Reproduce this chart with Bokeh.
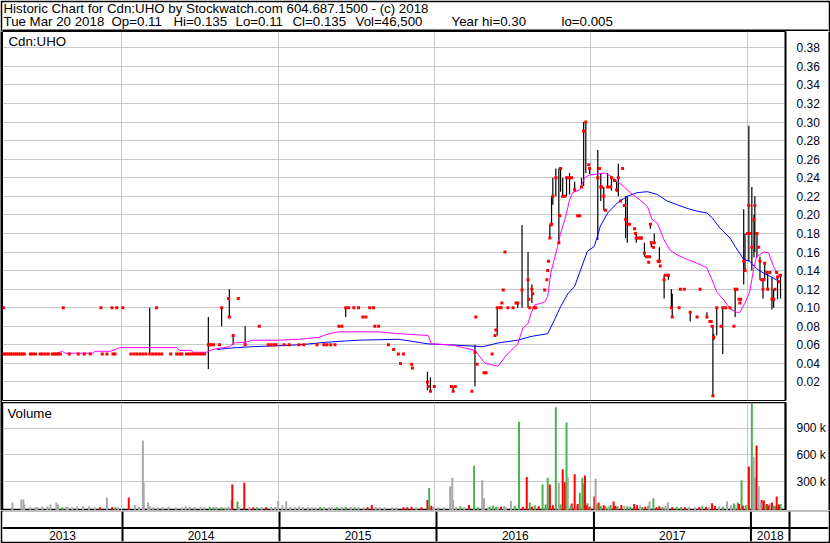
import pandas as pd
from bokeh.plotting import figure
from bokeh.layouts import column, row
from bokeh.models import Range1d, FixedTicker, Span, ColumnDataSource, NumeralTickFormatter
from bokeh.embed import file_html
from bokeh.resources import INLINE
from bokeh.core.properties import value

FONT = "Liberation Sans"

# ---------------------------------------------------------------- data
# time axis: calendar days counted from the first day of the chart
START = pd.Timestamp("2013-03-28")
years = [2013, 2014, 2015, 2016, 2017, 2018]
year_starts = [(pd.Timestamp(f"{y}-01-01") - START).days for y in years[1:]]

# days with a price range (high > low): day, high, low, close
bar_day = [344, 481, 512, 530, 539, 567, 802, 993, 1000, 1053, 1104, 1156, 1204, 1214,
           1228, 1237, 1279, 1283, 1286, 1293, 1300, 1304, 1309, 1318, 1325, 1337, 1353,
           1358, 1363, 1372, 1391, 1398, 1405, 1414, 1423, 1435, 1439, 1456, 1460, 1481,
           1500, 1514, 1516, 1523, 1535, 1546, 1556, 1563, 1565, 1607, 1646, 1660, 1662,
           1669, 1683, 1712, 1732, 1735, 1744, 1751, 1756, 1758, 1763, 1770, 1777, 1781,
           1788, 1798, 1802, 1811, 1818]
bar_hi = [0.10, 0.09, 0.10, 0.12, 0.07, 0.08, 0.10, 0.031, 0.025, 0.015, 0.060, 0.10, 0.105, 0.189,
          0.16, 0.125, 0.189, 0.22, 0.24, 0.25, 0.25, 0.25, 0.24, 0.24, 0.245, 0.236, 0.24,
          0.30, 0.30, 0.25, 0.27, 0.245, 0.23, 0.245, 0.242, 0.236, 0.255, 0.22, 0.22, 0.18,
          0.17, 0.19, 0.17, 0.18, 0.165, 0.135, 0.135, 0.12, 0.115, 0.095, 0.095, 0.08, 0.072,
          0.10, 0.10, 0.12, 0.206, 0.18, 0.296, 0.23, 0.20, 0.22, 0.18, 0.155, 0.13, 0.148,
          0.138, 0.133, 0.12, 0.133, 0.135]
bar_lo = [0.05, 0.034, 0.08, 0.09, 0.06, 0.06, 0.09, 0.011, 0.010, 0.010, 0.015, 0.07, 0.10, 0.10,
          0.10, 0.105, 0.175, 0.19, 0.211, 0.22, 0.17, 0.225, 0.22, 0.22, 0.222, 0.225, 0.23,
          0.231, 0.245, 0.244, 0.173, 0.215, 0.205, 0.23, 0.226, 0.225, 0.22, 0.175, 0.17, 0.17,
          0.155, 0.185, 0.165, 0.17, 0.15, 0.11, 0.13, 0.10, 0.09, 0.085, 0.09, 0.005, 0.065,
          0.07, 0.05, 0.09, 0.125, 0.14, 0.15, 0.14, 0.154, 0.16, 0.154, 0.13, 0.11, 0.13,
          0.12, 0.098, 0.10, 0.109, 0.11]
bar_cl = [0.05, 0.06, 0.10, 0.09, 0.07, 0.06, 0.10, 0.02, 0.010, 0.010, 0.052, 0.10, 0.105, 0.119,
          0.13, 0.12, 0.175, 0.19, 0.22, 0.24, 0.17, 0.25, 0.22, 0.24, 0.24, 0.227, 0.23,
          0.29, 0.30, 0.25, 0.24, 0.23, 0.22, 0.23, 0.24, 0.227, 0.24, 0.195, 0.19, 0.175,
          0.159, 0.19, 0.17, 0.17, 0.15, 0.13, 0.135, 0.10, 0.09, 0.095, 0.09, 0.005, 0.068,
          0.10, 0.10, 0.12, 0.15, 0.14, 0.21, 0.165, 0.195, 0.21, 0.18, 0.15, 0.12, 0.148,
          0.12, 0.109, 0.109, 0.133, 0.135]

# days that traded at a single price: day, close
flat_day = [0, 5, 9, 14, 19, 23, 28, 33, 37, 42, 47, 51, 65, 70, 77, 88, 93, 100, 107, 116,
            121, 126, 130, 135, 156, 177, 191, 205, 233, 244, 258, 263, 300, 307, 314, 321,
            328, 335, 351, 358, 365, 372, 393, 407, 414, 419, 430, 437, 444, 451, 458, 465, 472,
            2, 142, 230, 256, 267, 281, 360,
            484, 488, 493, 507, 528, 551, 600, 621, 628, 635, 639, 658, 670, 693, 704, 735,
            751, 758, 767, 777, 786, 793, 809, 821, 832, 842, 849, 858, 867, 870, 879, 902,
            914, 925, 930, 937, 956, 958, 995, 1009, 1049, 1058, 1097, 1106, 1109, 1125, 1130,
            1144, 1151, 1153, 1163, 1165, 1167, 1170, 1174, 1181, 1193, 1200, 1230, 1232,
            1239, 1242, 1246, 1267, 1272, 1274, 1276, 1281, 1302, 1314, 1330, 1344, 1349,
            1370, 1395, 1400, 1409, 1421, 1430, 1444, 1449, 1453, 1465, 1477, 1479, 1486,
            1491, 1493, 1505, 1510, 1512, 1521, 1532, 1537, 1549, 1581, 1584, 1593, 1623,
            1630, 1653, 1656, 1658, 1679, 1690, 1700, 1709, 1716, 1721, 1723, 1725, 1741,
            1746, 1767, 1774, 1779, 1786, 1793, 1805, 1809, 1814]
flat_cl = [
    0.05, 0.05, 0.05, 0.05, 0.05, 0.05, 0.05, 0.05, 0.05, 0.05, 0.05, 0.05, 0.05, 0.05,
    0.05, 0.05, 0.05, 0.05, 0.05, 0.05, 0.05, 0.05, 0.05, 0.05, 0.05, 0.05, 0.05, 0.05,
    0.05, 0.05, 0.05, 0.05, 0.05, 0.05, 0.05, 0.05, 0.05, 0.05, 0.05, 0.05, 0.05, 0.05,
    0.05, 0.05, 0.05, 0.05, 0.05, 0.05, 0.05, 0.05, 0.05, 0.05, 0.05,
    0.10, 0.10, 0.10, 0.10, 0.10, 0.10, 0.10,
    0.06, 0.06, 0.06, 0.06, 0.11, 0.11, 0.08, 0.06, 0.06, 0.06, 0.06, 0.06, 0.06, 0.06,
    0.06, 0.06, 0.06, 0.06, 0.06, 0.06, 0.08, 0.08, 0.10, 0.10, 0.10, 0.09, 0.09, 0.10,
    0.10, 0.08, 0.08, 0.06, 0.055, 0.05, 0.04, 0.05, 0.039, 0.035, 0.015, 0.015, 0.015,
    0.015, 0.01, 0.09, 0.039, 0.03, 0.03, 0.05, 0.07, 0.076, 0.10, 0.10, 0.105, 0.119,
    0.16, 0.10, 0.10, 0.105, 0.109, 0.10, 0.115, 0.10, 0.10, 0.119, 0.13, 0.14, 0.15,
    0.189, 0.199, 0.22, 0.24, 0.199, 0.199, 0.254, 0.25, 0.23, 0.205, 0.23, 0.237, 0.215,
    0.25, 0.21, 0.19, 0.185, 0.18, 0.175, 0.175, 0.175, 0.155, 0.149, 0.155, 0.165, 0.15,
    0.145, 0.135, 0.10, 0.12, 0.12, 0.09, 0.12, 0.085, 0.085, 0.08, 0.08, 0.10, 0.10,
    0.08, 0.12, 0.109, 0.105, 0.109, 0.18, 0.18, 0.165, 0.13, 0.13, 0.138, 0.138, 0.12,
    0.138, 0.128]

# moving averages of the close
ma_short_day = [128, 140, 146, 212, 216, 251, 263, 274, 407, 414, 442, 444, 477, 491, 530,
                542, 570, 584, 646, 693, 739, 763, 786, 879, 925, 995, 1002, 1049, 1104, 1128,
                1158, 1174, 1204, 1216, 1228, 1235, 1244, 1267, 1274, 1281, 1297, 1304, 1316,
                1325, 1332, 1349, 1360, 1372, 1390, 1407, 1421, 1437, 1453, 1467, 1490, 1507,
                1518, 1530, 1546, 1560, 1576, 1600, 1623, 1646, 1658, 1669, 1686, 1700, 1716,
                1723, 1735, 1746, 1755, 1762, 1779, 1790, 1802, 1813, 1818]
ma_short = [0.051, 0.053, 0.051, 0.051, 0.053, 0.053, 0.055, 0.057, 0.057, 0.054, 0.054,
            0.052, 0.052, 0.055, 0.058, 0.062, 0.063, 0.065, 0.065, 0.066, 0.068, 0.072,
            0.074, 0.074, 0.072, 0.070, 0.061, 0.060, 0.054, 0.040, 0.037, 0.047, 0.061,
            0.078, 0.083, 0.094, 0.103, 0.106, 0.112, 0.137, 0.166, 0.180, 0.198, 0.216,
            0.224, 0.227, 0.240, 0.243, 0.244, 0.245, 0.242, 0.236, 0.230, 0.224, 0.216,
            0.209, 0.195, 0.191, 0.173, 0.162, 0.157, 0.152, 0.148, 0.143, 0.130, 0.117,
            0.108, 0.099, 0.095, 0.095, 0.105, 0.117, 0.141, 0.155, 0.160, 0.159, 0.144,
            0.135, 0.133]
ma_long_day = [502, 523, 546, 584, 646, 693, 763, 832, 925, 995, 1058, 1123, 1158, 1204,
               1235, 1274, 1290, 1304, 1321, 1337, 1351, 1367, 1383, 1390, 1397, 1414, 1437,
               1460, 1483, 1507, 1530, 1553, 1576, 1600, 1623, 1646, 1658, 1676, 1700, 1712,
               1732, 1746, 1762, 1779, 1793, 1816]
ma_long = [0.055, 0.056, 0.057, 0.058, 0.059, 0.060, 0.063, 0.065, 0.066, 0.061, 0.0597,
           0.058, 0.062, 0.065, 0.069, 0.072, 0.087, 0.101, 0.115, 0.123, 0.141, 0.161,
           0.166, 0.177, 0.188, 0.202, 0.213, 0.220, 0.224, 0.225, 0.222, 0.215, 0.211,
           0.207, 0.204, 0.202, 0.197, 0.186, 0.175, 0.166, 0.152, 0.150, 0.142, 0.137,
           0.134, 0.128]

# daily volume (shares); move: g = closed up, r = closed down, n = unchanged
vol_day = (
    [23, 44, 49, 51, 81, 93, 105, 112, 126, 130, 140, 153, 174, 188, 202, 228, 244, 256, 263,
     65, 77, 149, 163, 216, 270]
    + [295, 309, 328, 330, 340, 351, 388, 419, 437, 463, 484, 512, 535, 537, 549, 565, 595,
       616, 628, 644, 663, 672,
       319, 344, 363, 374, 405, 428, 449, 472, 493, 500, 521, 528, 553, 577, 586, 605, 637, 654]
    + [684, 714, 732, 751, 770, 802, 832, 863, 881, 911, 937, 956, 993, 997, 1002, 1007,
       693, 702, 723, 742, 763, 781, 793, 814, 823, 844, 853, 872, 893, 921, 946, 967, 979]
    + [1046, 1051, 1053, 1090, 1102, 1121, 1125, 1139, 1153, 1158, 1176, 1188, 1207, 1225,
       1232, 1237, 1262, 1274, 1279, 1293, 1300, 1309, 1314, 1318, 1321, 1330, 1337, 1341,
       1349, 1355, 1359, 1361, 1367, 1372,
       1018, 1032, 1060, 1070, 1079, 1111, 1135, 1146, 1165, 1172, 1197, 1216, 1244, 1253,
       1269, 1286, 1304, 1328, 1344, 1365]
    + [1383, 1386, 1393, 1398, 1409, 1428, 1437, 1446, 1460, 1476, 1490, 1502, 1509, 1512,
       1521, 1528, 1555, 1576, 1595, 1618, 1644, 1658, 1674, 1693, 1711, 1718, 1721, 1727,
       1730,
       1390, 1405, 1416, 1421, 1432, 1453, 1467, 1483, 1495, 1535, 1542, 1549, 1565, 1586,
       1604, 1628, 1635, 1651, 1665, 1683, 1702, 1709]
    + [1744, 1751, 1755, 1758, 1762, 1767, 1774, 1779, 1786, 1793, 1798, 1805, 1809, 1816,
       1818, 1737, 1772, 1783, 1790, 1802, 1814]
)
vol = (
    [62000, 96000, 96000, 40000, 12000, 17000, 17000, 40000, 62000, 40000, 8000, 10000,
     17000, 20000, 20000, 10000, 119000, 8000, 8000,
     10000, 10000, 12000, 8000, 10000, 8000]
    + [119000, 35000, 765000, 285000, 62000, 10000, 15000, 10000, 15000, 10000, 15000, 10000,
       85000, 265000, 73000, 285000, 8000, 8000, 15000, 80000, 73000, 15000,
       15000, 20000, 8000, 12000, 8000, 20000, 12000, 8000, 10000, 12000, 10000, 15000,
       10000, 8000, 10000, 8000, 12000, 30000]
    + [10000, 8000, 10000, 8000, 10000, 15000, 10000, 35000, 8000, 8000, 8000, 15000, 92000,
       227000, 25000, 15000,
       20000, 12000, 8000, 12000, 8000, 12000, 8000, 12000, 8000, 10000, 8000, 12000, 8000,
       10000, 8000, 8000, 10000]
    + [246000, 342000, 92000, 35000, 477000, 315000, 111000, 15000, 15000, 8000, 10000, 80000,
       977000, 350000, 62000, 15000, 265000, 342000, 265000, 1140000, 285000, 438000, 292000,
       969000, 350000, 50000, 381000, 20000, 170000, 342000, 277000, 369000, 54000, 15000,
       10000, 8000, 12000, 20000, 10000, 8000, 10000, 25000, 15000, 20000, 25000, 15000,
       30000, 20000, 40000, 30000, 40000, 25000, 45000, 30000]
    + [130000, 330000, 62000, 25000, 20000, 73000, 20000, 35000, 20000, 46000, 25000, 15000,
       25000, 73000, 111000, 10000, 62000, 15000, 10000, 8000, 15000, 54000, 20000, 73000,
       35000, 62000, 46000, 315000, 25000,
       40000, 30000, 20000, 35000, 25000, 25000, 15000, 30000, 12000, 20000, 15000, 25000,
       10000, 12000, 15000, 8000, 20000, 10000, 25000, 15000, 30000, 50000]
    + [469000, 1200000, 580000, 342000, 707000, 246000, 92000, 85000, 46000, 50000, 62000,
       20000, 130000, 35000, 46500, 30000, 60000, 40000, 30000, 25000, 40000]
)
vol_move = list(
    "nnnnnnnnnngnnnnrnrg" "nnnnnn"
    "rnnnnnnnnnggnrgrgrnnnn" "nnnnnnnngnnnnnrnnn"
    "nnnnngnrnnrrrgrn" "nnngngnngnrnnnrnr"
    "nnnrgnngg" "nnngrgrggrgnrrgnrrngggrgr" "nnngngngrngrgrgrggrr"
    "rnrggrgrgrnrgngrngrnrrnnngrgr" "grngrngrgrgnrgnrgnrgng"
    "rgnnrnrrrnrgrng" "gngrgr"
)

price_ticks = [0.02, 0.04, 0.06, 0.08, 0.10, 0.12, 0.14, 0.16, 0.18, 0.20,
               0.22, 0.24, 0.26, 0.28, 0.30, 0.32, 0.34, 0.36, 0.38]
vol_ticks = [300000, 600000, 900000]
vol_tick_labels = {300000: "300 k", 600000: "600 k", 900000: "900 k"}

header_1 = "Historic Chart for Cdn:UHO by Stockwatch.com 604.687.1500 - (c) 2018"
header_2 = ["Tue Mar 20 2018", "Op=0.11", "Hi=0.135", "Lo=0.11", "Cl=0.135",
            "Vol=46,500", "Year hi=0.30", "lo=0.005"]
header_2_x = [1, 109, 171, 233, 290, 353, 449, 559]

# ---------------------------------------------------------------- geometry
PX_PER_DAY = 157 / 365          # one year is 157 px wide
PLOT_W = 787                    # width of the price / volume frames
FULL_W = 826                    # inner width of the whole chart
GRID = "#c8c8c8"
UP, DOWN, FLAT = "#4caf50", "#ff0000", "#a8a8a8"
HDR_FONT = value("13.3px")

# header with the quote line
hdr = figure(width=830, height=31, x_range=Range1d(0, FULL_W), y_range=Range1d(0, 29),
             toolbar_location=None, output_backend="svg",
             x_axis_location=None, y_axis_location=None,
             min_border_left=2, min_border_right=2, min_border_top=2, min_border_bottom=0,
             border_fill_color="black", background_fill_color="white", outline_line_color=None)
hdr.grid.visible = False
hdr.add_layout(Span(location=0, dimension="width", line_color="black", line_width=4))
hdr.text(x=[1], y=[23], text=[header_1], text_font=value(FONT),
         text_font_size=HDR_FONT, text_color="black", text_baseline="alphabetic")
hdr.text(x=header_2_x, y=[10] * len(header_2), text=header_2, text_font=value(FONT),
         text_font_size=HDR_FONT, text_color="black", text_baseline="alphabetic")

# price panel
price_top = 0.3976
p = figure(width=826, height=371, x_range=Range1d(0, PLOT_W / PX_PER_DAY),
           y_range=Range1d(0, price_top), toolbar_location=None, output_backend="svg",
           x_axis_location=None, y_axis_location="right",
           min_border_left=0, min_border_right=39, min_border_top=0, min_border_bottom=2,
           border_fill_color="white", outline_line_color="black", outline_line_width=1)
p.ygrid.ticker = FixedTicker(ticks=price_ticks)
p.xgrid.ticker = FixedTicker(ticks=year_starts)
p.grid.grid_line_color = GRID
ax = p.yaxis[0]
ax.ticker = FixedTicker(ticks=price_ticks)
ax.formatter = NumeralTickFormatter(format="0.00")
ax.major_tick_line_color = None
ax.minor_tick_line_color = None
ax.axis_line_color = "black"
ax.axis_line_width = 2
ax.major_label_standoff = 5
ax.major_label_text_font = FONT
ax.major_label_text_font_size = "12px"
ax.major_label_text_color = "#000018"

p.segment(x0=bar_day, y0=bar_lo, x1=bar_day, y1=bar_hi, line_color="black", line_width=1.2)
p.line(ma_long_day, ma_long, line_color="#0000ff", line_width=1)
p.line(ma_short_day, ma_short, line_color="#ff00ff", line_width=1)
p.scatter(x=flat_day + bar_day, y=flat_cl + bar_cl, marker="square", size=3,
          fill_color="#ff0000", line_color=None)
p.text(x=[6 / PX_PER_DAY], y=[price_top - 10 * price_top / 369], text=["Cdn:UHO"],
       text_font=value(FONT), text_font_size=HDR_FONT, text_color="black",
       text_baseline="alphabetic")

# volume panel
v_lo, v_hi = -28000, 1194000
v = figure(width=826, height=108, x_range=p.x_range, y_range=Range1d(v_lo, v_hi),
           toolbar_location=None, output_backend="svg",
           x_axis_location=None, y_axis_location="right",
           min_border_left=0, min_border_right=39, min_border_top=0, min_border_bottom=0,
           border_fill_color="white", outline_line_color="black", outline_line_width=1.5)
v.ygrid.ticker = FixedTicker(ticks=vol_ticks)
v.xgrid.ticker = FixedTicker(ticks=year_starts)
v.grid.grid_line_color = GRID
vax = v.yaxis[0]
vax.ticker = FixedTicker(ticks=vol_ticks)
vax.major_label_overrides = vol_tick_labels
vax.major_tick_line_color = None
vax.minor_tick_line_color = None
vax.axis_line_color = "black"
vax.axis_line_width = 2
vax.major_label_standoff = 5
vax.major_label_text_font = FONT
vax.major_label_text_font_size = "12px"
vax.major_label_text_color = "#000018"

vcolors = [{"g": UP, "r": DOWN, "n": FLAT}[m] for m in vol_move]
vsrc = ColumnDataSource(dict(day=vol_day, vol=vol, color=vcolors))
v.vbar(x="day", top="vol", bottom=v_lo, width=2 / PX_PER_DAY, fill_color="color",
       line_color=None, source=vsrc)
v.text(x=[5 / PX_PER_DAY], y=[v_hi - 11 * (v_hi - v_lo) / 108], text=["Volume"],
       text_font=value(FONT), text_font_size=HDR_FONT, text_color="black",
       text_baseline="alphabetic")

# side borders of the middle section
def edge():
    e = figure(width=2, height=371 + 108, toolbar_location=None, output_backend="svg",
               x_axis_location=None, y_axis_location=None, min_border=0,
               background_fill_color="black", border_fill_color="black",
               outline_line_color=None)
    e.grid.visible = False
    return e

# year strip under the volume panel
s = figure(width=830, height=33, x_range=Range1d(0, FULL_W / PX_PER_DAY), y_range=Range1d(0, 30),
           toolbar_location=None, output_backend="svg",
           x_axis_location=None, y_axis_location=None,
           min_border_left=2, min_border_right=2, min_border_top=1, min_border_bottom=2,
           border_fill_color="black", background_fill_color="white", outline_line_color=None)
s.grid.visible = False
for d in year_starts + [PLOT_W / PX_PER_DAY]:
    s.add_layout(Span(location=d, dimension="height", line_color="black", line_width=2))
s.add_layout(Span(location=13.5, dimension="width", line_color="black", line_width=2))
edges = [0] + year_starts + [PLOT_W / PX_PER_DAY]
centers = [(a + b) / 2 for a, b in zip(edges[:-1], edges[1:])]
s.text(x=centers, y=[6.3] * len(centers), text=[str(y) for y in years],
       text_font=value(FONT), text_font_size=value("12px"), text_color="black",
       text_align="center", text_baseline="middle")

layout = column(hdr, row(edge(), column(p, v), edge()), s)
open("out.html", "w").write(file_html(layout, INLINE))
